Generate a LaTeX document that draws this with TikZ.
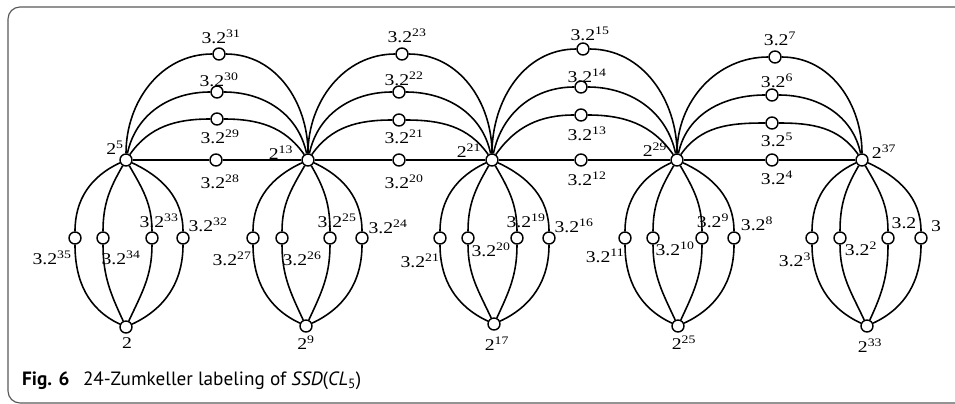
\documentclass[tikz,border=0pt]{standalone}
\usepackage{fontspec}
\setmainfont{Liberation Serif}
\newfontfamily\labfont[FakeStretch=1.2]{Liberation Serif}
\newfontfamily\capfont{PT Sans}
\usepackage{tikz}
\usepackage{xcolor}

\newcommand{\ttw}[1]{3.2\textsuperscript{#1}}
\newcommand{\tpw}[1]{2\textsuperscript{#1}}

\begin{document}
\begin{tikzpicture}[
  x=0.03cm, y=0.03cm,
  vtx/.style={circle, draw, fill=white, line width=1.2pt, minimum size=0.36cm, inner sep=0},
  lab/.style={inner sep=0, font=\labfont\fontsize{14}{16}\selectfont},
  link/.style={line width=1.35pt}
]
\useasboundingbox (0,0) rectangle (955,-404);
\clip (0,0) rectangle (955,-404);
\draw[black!65, line width=1pt, rounded corners=0.36cm] (8,-7) rectangle (990,-403);

\node[vtx] (h1) at (126,-160) {};
\node[vtx] (h2) at (308,-160) {};
\node[vtx] (h3) at (492,-160) {};
\node[vtx] (h4) at (677,-160) {};
\node[vtx] (h5) at (862,-160) {};

\node[vtx] (t1) at (219,-54) {};
\node[vtx] (m1) at (217,-92) {};
\node[vtx] (l1) at (217,-119) {};
\node[vtx] (s1) at (216,-160) {};
\node[vtx] (t2) at (402,-54) {};
\node[vtx] (m2) at (399,-92) {};
\node[vtx] (l2) at (399,-120) {};
\node[vtx] (s2) at (399,-160) {};
\node[vtx] (t3) at (583,-49) {};
\node[vtx] (m3) at (581,-87) {};
\node[vtx] (l3) at (581,-115) {};
\node[vtx] (s3) at (581,-160) {};
\node[vtx] (t4) at (775,-57) {};
\node[vtx] (m4) at (772,-95) {};
\node[vtx] (l4) at (772,-123) {};
\node[vtx] (s4) at (772,-160) {};

\node[vtx] (p1) at (75,-238) {};
\node[vtx] (q1) at (103,-238) {};
\node[vtx] (r1) at (152,-238) {};
\node[vtx] (u1) at (183,-238) {};
\node[vtx] (z1) at (126,-327) {};
\node[vtx] (p2) at (253,-238) {};
\node[vtx] (q2) at (282,-238) {};
\node[vtx] (r2) at (330,-238) {};
\node[vtx] (u2) at (362,-238) {};
\node[vtx] (z2) at (306,-326) {};
\node[vtx] (p3) at (440,-238) {};
\node[vtx] (q3) at (468,-238) {};
\node[vtx] (r3) at (517,-238) {};
\node[vtx] (u3) at (549,-238) {};
\node[vtx] (z3) at (494,-324) {};
\node[vtx] (p4) at (625,-238) {};
\node[vtx] (q4) at (653,-238) {};
\node[vtx] (r4) at (702,-238) {};
\node[vtx] (u4) at (734,-238) {};
\node[vtx] (z4) at (678,-326) {};
\node[vtx] (p5) at (812,-238) {};
\node[vtx] (q5) at (840,-238) {};
\node[vtx] (r5) at (888,-238) {};
\node[vtx] (u5) at (921,-238) {};
\node[vtx] (z5) at (867,-326) {};

\foreach \i/\j in {1/2,2/3,3/4,4/5} {
  \draw[link] (h\i) to[out=90,in=180] (t\i) to[out=0,in=90] (h\j);
  \draw[link] (h\i) to[out=78,in=180] (m\i) to[out=0,in=102] (h\j);
  \draw[link] (h\i) to[out=55,in=180] (l\i) to[out=0,in=125] (h\j);
  \draw[link] (h\i) -- (s\i) -- (h\j);
}
\foreach \i in {1,...,5} {
  \draw[link] (h\i) to[out=205,in=90] (p\i) to[out=-90,in=155] (z\i);
  \draw[link] (h\i) to[out=240,in=90] (q\i) to[out=-90,in=115] (z\i);
  \draw[link] (h\i) to[out=-60,in=90] (r\i) to[out=-90,in=65] (z\i);
  \draw[link] (h\i) to[out=-25,in=90] (u\i) to[out=-90,in=25] (z\i);
}

\node[lab] (lh1) at (115,-148) {\tpw{5}};
\node[lab] (lh2) at (281,-153) {\tpw{13}};
\node[lab] (lh3) at (469,-151) {\tpw{21}};
\node[lab] (lh4) at (655,-150) {\tpw{29}};
\node[lab] (lh5) at (884,-152) {\tpw{37}};

\node[lab] (lt1) at (221,-37) {\ttw{31}};
\node[lab] (lm1) at (219,-80) {\ttw{30}};
\node[lab] (ll1) at (220,-137) {\ttw{29}};
\node[lab] (ls1) at (220,-182) {\ttw{28}};
\node[lab] (lt2) at (407,-36) {\ttw{23}};
\node[lab] (lm2) at (404,-79) {\ttw{22}};
\node[lab] (ll2) at (404,-137) {\ttw{21}};
\node[lab] (ls2) at (404,-182) {\ttw{20}};
\node[lab] (lt3) at (590,-34) {\ttw{15}};
\node[lab] (lm3) at (587,-76) {\ttw{14}};
\node[lab] (ll3) at (587,-134) {\ttw{13}};
\node[lab] (ls3) at (587,-179) {\ttw{12}};
\node[lab] (lt4) at (780,-39) {\ttw{7}};
\node[lab] (lm4) at (777,-81) {\ttw{6}};
\node[lab] (ll4) at (777,-140) {\ttw{5}};
\node[lab] (ls4) at (777,-178) {\ttw{4}};

\node[lab] (lp1) at (52,-258) {\ttw{35}};
\node[lab] (lq1) at (121,-258) {\ttw{34}};
\node[lab] (lr1) at (159,-221) {\ttw{33}};
\node[lab] (lu1) at (208,-225) {\ttw{32}};
\node[lab] (lz1) at (127,-343) {2};
\node[lab] (lp2) at (232,-259) {\ttw{27}};
\node[lab] (lq2) at (302,-259) {\ttw{26}};
\node[lab] (lr2) at (337,-221) {\ttw{25}};
\node[lab] (lu2) at (388,-227) {\ttw{24}};
\node[lab] (lz2) at (306,-343) {\tpw{9}};
\node[lab] (lp3) at (420,-261) {\ttw{21}};
\node[lab] (lq3) at (491,-250) {\ttw{20}};
\node[lab] (lr3) at (526,-221) {\ttw{19}};
\node[lab] (lu3) at (574,-226) {\ttw{16}};
\node[lab] (lz3) at (497,-344) {\tpw{17}};
\node[lab] (lp4) at (605,-256) {\ttw{11}};
\node[lab] (lq4) at (675,-249) {\ttw{10}};
\node[lab] (lr4) at (713,-221) {\ttw{9}};
\node[lab] (lu4) at (757,-224) {\ttw{8}};
\node[lab] (lz4) at (684,-343) {\tpw{25}};
\node[lab] (lp5) at (795,-260) {\ttw{3}};
\node[lab] (lq5) at (861,-249) {\ttw{2}};
\node[lab] (lr5) at (904,-223) {3.2};
\node[lab] (lu5) at (936,-226) {3};
\node[lab] (lz5) at (870,-346) {\tpw{33}};

\node[anchor=base west, inner sep=0, font=\capfont\fontsize{16.4}{19}\selectfont] (cap) at (22,-385)
  {\textbf{Fig. 6}\hspace{0.7em}24-Zumkeller labeling of \textit{SSD}(\textit{CL}\textsubscript{5})};
\end{tikzpicture}
\end{document}
